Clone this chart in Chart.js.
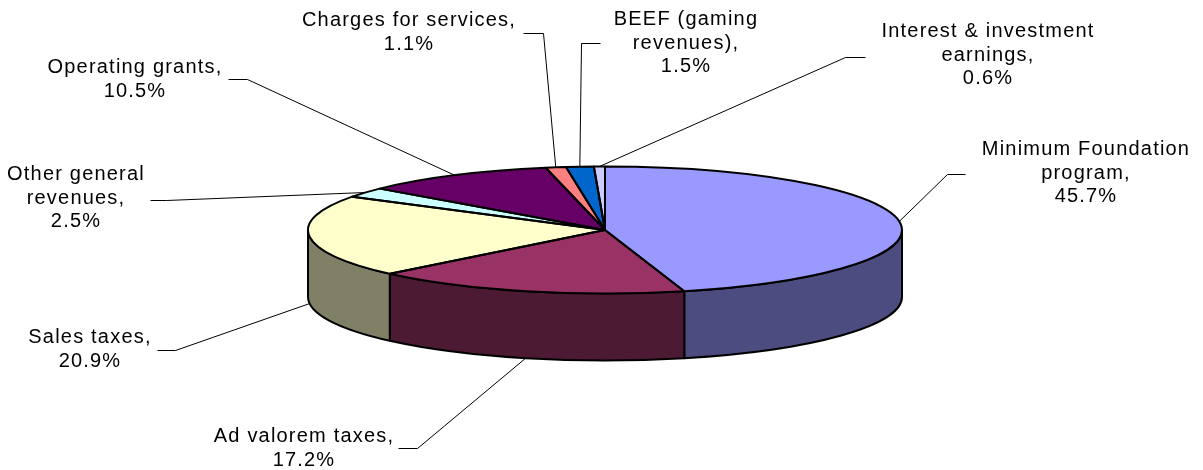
<!DOCTYPE html>
<html>
<head>
<meta charset="utf-8">
<script src="https://cdn.jsdelivr.net/npm/chart.js@4.4.1/dist/chart.umd.min.js"></script>
<style>
  html, body { margin: 0; padding: 0; background: #ffffff; }
  #c { display: block; }
</style>
</head>
<body>
<canvas id="c" width="1203" height="470"></canvas>
<script>
// ---- data ----
const categories = [
  'Minimum Foundation program',
  'Ad valorem taxes',
  'Sales taxes',
  'Other general revenues',
  'Operating grants',
  'Charges for services',
  'BEEF (gaming revenues)',
  'Interest & investment earnings'
];
const values = [45.7, 17.2, 20.9, 2.5, 10.5, 1.1, 1.5, 0.6];
const labelText = [
  ['Minimum Foundation', 'program,'],
  ['Ad valorem taxes,'],
  ['Sales taxes,'],
  ['Other general', 'revenues,'],
  ['Operating grants,'],
  ['Charges for services,'],
  ['BEEF (gaming', 'revenues),'],
  ['Interest & investment', 'earnings,']
];

// ---- styles ----
const topColors  = ['#9999FF', '#993366', '#FFFFCC', '#CCFFFF', '#660066', '#FF8080', '#0066CC', '#CCCCFF'];
const sideColors = ['#4C4C80', '#4C1A33', '#808066', '#668080', '#330033', '#804040', '#003366', '#666680'];

// ---- layout ----
const G = { cx: 605, cy: 230, rx: 297, ry: 63.5, depth: 67 };
const labelLayout = [
  { x: 1086, y: 155, lead: [[965, 174], [947, 174]] },
  { x: 304,  y: 442, lead: [[398, 448], [417, 448]] },
  { x: 90,   y: 343, lead: [[157, 350], [175, 350]] },
  { x: 76,   y: 180, lead: [[150, 200], [166, 200]] },
  { x: 135,  y: 73,  lead: [[228, 79],  [247, 79]] },
  { x: 409,  y: 26,  lead: [[523, 33],  [543, 33]] },
  { x: 686,  y: 25,  lead: [[600, 43],  [581, 43]] },
  { x: 988,  y: 37,  lead: [[865, 57],  [845, 57]] }
];
const LINE_H = 23.5;

const pie3d = {
  id: 'pie3d',
  beforeDatasetsDraw(chart) {
    const ctx = chart.ctx;
    const arcs = chart.getDatasetMeta(0).data;
    // side walls (front half only)
    ctx.save();
    ctx.lineWidth = 2;
    ctx.strokeStyle = '#000';
    ctx.lineJoin = 'round';
    arcs.forEach((a, i) => {
      const s = Math.max(a.startAngle, 0);
      const e = Math.min(a.endAngle, Math.PI);
      if (s >= e) return;
      ctx.beginPath();
      ctx.ellipse(G.cx, G.cy, G.rx, G.ry, 0, s, e, false);
      ctx.ellipse(G.cx, G.cy + G.depth, G.rx, G.ry, 0, e, s, true);
      ctx.closePath();
      ctx.fillStyle = sideColors[i];
      ctx.fill();
      ctx.stroke();
    });
    ctx.restore();
    // squash the library's pie onto the ellipse of the top face
    const a0 = arcs[0];
    ctx.save();
    ctx.translate(G.cx, G.cy);
    ctx.scale(G.rx / a0.outerRadius, G.ry / a0.outerRadius);
    ctx.translate(-a0.x, -a0.y);
  },
  afterDatasetsDraw(chart) {
    const ctx = chart.ctx;
    ctx.restore();
    const arcs = chart.getDatasetMeta(0).data;
    // top face outlines
    ctx.save();
    ctx.lineWidth = 2;
    ctx.strokeStyle = '#000';
    ctx.lineJoin = 'round';
    arcs.forEach((a) => {
      ctx.beginPath();
      ctx.moveTo(G.cx, G.cy);
      ctx.lineTo(G.cx + G.rx * Math.cos(a.startAngle), G.cy + G.ry * Math.sin(a.startAngle));
      ctx.ellipse(G.cx, G.cy, G.rx, G.ry, 0, a.startAngle, a.endAngle, false);
      ctx.closePath();
      ctx.stroke();
    });
    ctx.restore();

    // leader lines + labels
    ctx.save();
    ctx.lineWidth = 1;
    ctx.strokeStyle = '#000';
    ctx.fillStyle = '#000';
    ctx.font = '20px "Liberation Sans", Arial, sans-serif';
    try { ctx.letterSpacing = '1.2px'; } catch (e) {}
    ctx.textAlign = 'center';
    ctx.textBaseline = 'alphabetic';
    arcs.forEach((a, i) => {
      const L = labelLayout[i];
      const m = (a.startAngle + a.endAngle) / 2;
      const px = G.cx + G.rx * Math.cos(m);
      let py = G.cy + G.ry * Math.sin(m);
      if (Math.sin(m) > 0) py += G.depth;
      ctx.beginPath();
      ctx.moveTo(L.lead[0][0] + 0.5, L.lead[0][1] + 0.5);
      ctx.lineTo(L.lead[1][0] + 0.5, L.lead[1][1] + 0.5);
      ctx.lineTo(px, py);
      ctx.stroke();
      const lines = labelText[i].concat([values[i].toFixed(1) + '%']);
      lines.forEach((t, k) => ctx.fillText(t, L.x, L.y + k * LINE_H));
    });
    ctx.restore();
  }
};

new Chart(document.getElementById('c'), {
  type: 'pie',
  data: {
    labels: categories,
    datasets: [{
      data: values,
      backgroundColor: topColors,
      borderWidth: 0,
      clip: false
    }]
  },
  options: {
    responsive: false,
    animation: false,
    devicePixelRatio: 1,
    events: [],
    layout: { padding: 0 },
    plugins: {
      legend: { display: false },
      tooltip: { enabled: false }
    }
  },
  plugins: [pie3d]
});
</script>
</body>
</html>
